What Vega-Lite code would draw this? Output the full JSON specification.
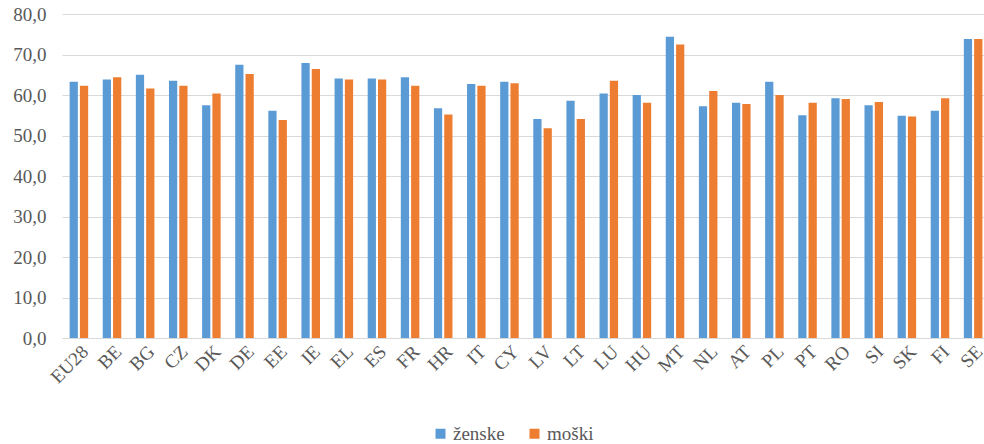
{
  "$schema": "https://vega.github.io/schema/vega-lite/v6.json",
  "width": 922,
  "height": 324,
  "autosize": {"type": "none"},
  "padding": {"left": 62, "top": 14, "right": 0, "bottom": 106},
  "background": "white",
  "config": {
    "font": "Times New Roman, Liberation Serif, DejaVu Serif, serif",
    "axis": {"labelFont": "Times New Roman, Liberation Serif, DejaVu Serif, serif"},
    "legend": {"labelFont": "Times New Roman, Liberation Serif, DejaVu Serif, serif"},
    "view": {"stroke": null}
  },
  "data": {
    "values": [
      {"drzava": "EU28", "spol": "ženske", "vrednost": 63.3}, {"drzava": "EU28", "spol": "moški", "vrednost": 62.3},
      {"drzava": "BE", "spol": "ženske", "vrednost": 63.8}, {"drzava": "BE", "spol": "moški", "vrednost": 64.4},
      {"drzava": "BG", "spol": "ženske", "vrednost": 65.0}, {"drzava": "BG", "spol": "moški", "vrednost": 61.6},
      {"drzava": "CZ", "spol": "ženske", "vrednost": 63.5}, {"drzava": "CZ", "spol": "moški", "vrednost": 62.3},
      {"drzava": "DK", "spol": "ženske", "vrednost": 57.5}, {"drzava": "DK", "spol": "moški", "vrednost": 60.4},
      {"drzava": "DE", "spol": "ženske", "vrednost": 67.5}, {"drzava": "DE", "spol": "moški", "vrednost": 65.2},
      {"drzava": "EE", "spol": "ženske", "vrednost": 56.1}, {"drzava": "EE", "spol": "moški", "vrednost": 53.8},
      {"drzava": "IE", "spol": "ženske", "vrednost": 67.9}, {"drzava": "IE", "spol": "moški", "vrednost": 66.4},
      {"drzava": "EL", "spol": "ženske", "vrednost": 64.1}, {"drzava": "EL", "spol": "moški", "vrednost": 63.8},
      {"drzava": "ES", "spol": "ženske", "vrednost": 64.1}, {"drzava": "ES", "spol": "moški", "vrednost": 63.8},
      {"drzava": "FR", "spol": "ženske", "vrednost": 64.4}, {"drzava": "FR", "spol": "moški", "vrednost": 62.3},
      {"drzava": "HR", "spol": "ženske", "vrednost": 56.7}, {"drzava": "HR", "spol": "moški", "vrednost": 55.2},
      {"drzava": "IT", "spol": "ženske", "vrednost": 62.7}, {"drzava": "IT", "spol": "moški", "vrednost": 62.3},
      {"drzava": "CY", "spol": "ženske", "vrednost": 63.3}, {"drzava": "CY", "spol": "moški", "vrednost": 62.9},
      {"drzava": "LV", "spol": "ženske", "vrednost": 54.1}, {"drzava": "LV", "spol": "moški", "vrednost": 51.8},
      {"drzava": "LT", "spol": "ženske", "vrednost": 58.6}, {"drzava": "LT", "spol": "moški", "vrednost": 54.1},
      {"drzava": "LU", "spol": "ženske", "vrednost": 60.4}, {"drzava": "LU", "spol": "moški", "vrednost": 63.5},
      {"drzava": "HU", "spol": "ženske", "vrednost": 60.0}, {"drzava": "HU", "spol": "moški", "vrednost": 58.1},
      {"drzava": "MT", "spol": "ženske", "vrednost": 74.4}, {"drzava": "MT", "spol": "moški", "vrednost": 72.5},
      {"drzava": "NL", "spol": "ženske", "vrednost": 57.2}, {"drzava": "NL", "spol": "moški", "vrednost": 61.0},
      {"drzava": "AT", "spol": "ženske", "vrednost": 58.1}, {"drzava": "AT", "spol": "moški", "vrednost": 57.8},
      {"drzava": "PL", "spol": "ženske", "vrednost": 63.3}, {"drzava": "PL", "spol": "moški", "vrednost": 60.0},
      {"drzava": "PT", "spol": "ženske", "vrednost": 55.0}, {"drzava": "PT", "spol": "moški", "vrednost": 58.1},
      {"drzava": "RO", "spol": "ženske", "vrednost": 59.2}, {"drzava": "RO", "spol": "moški", "vrednost": 59.0},
      {"drzava": "SI", "spol": "ženske", "vrednost": 57.5}, {"drzava": "SI", "spol": "moški", "vrednost": 58.3},
      {"drzava": "SK", "spol": "ženske", "vrednost": 54.9}, {"drzava": "SK", "spol": "moški", "vrednost": 54.7},
      {"drzava": "FI", "spol": "ženske", "vrednost": 56.1}, {"drzava": "FI", "spol": "moški", "vrednost": 59.2},
      {"drzava": "SE", "spol": "ženske", "vrednost": 73.8}, {"drzava": "SE", "spol": "moški", "vrednost": 73.8}
    ]
  },
  "mark": {"type": "bar"},
  "encoding": {
    "x": {
      "field": "drzava",
      "type": "nominal",
      "sort": null,
      "scale": {"range": [0, 928], "paddingInner": 0.44, "paddingOuter": 0.23},
      "axis": {
        "title": null,
        "labelAngle": -45,
        "labelAlign": "right",
        "labelBaseline": "top",
        "labelFontSize": 19,
        "labelColor": "#595959",
        "labelPadding": 4,
        "ticks": false,
        "domainColor": "#d9d9d9",
        "domainWidth": 1
      }
    },
    "xOffset": {
      "field": "spol",
      "type": "nominal",
      "sort": ["ženske", "moški"],
      "scale": {"paddingInner": 0.2, "paddingOuter": 0}
    },
    "y": {
      "field": "vrednost",
      "type": "quantitative",
      "scale": {"domain": [0, 80], "nice": false},
      "axis": {
        "title": null,
        "values": [0, 10, 20, 30, 40, 50, 60, 70, 80],
        "labelExpr": "replace(format(datum.value, '.1f'), '.', ',')",
        "labelFontSize": 19,
        "labelColor": "#595959",
        "labelPadding": 16,
        "ticks": false,
        "domain": false,
        "gridColor": "#d9d9d9",
        "gridWidth": 1
      }
    },
    "color": {
      "field": "spol",
      "type": "nominal",
      "scale": {"domain": ["ženske", "moški"], "range": ["#5b9bd5", "#ed7d31"]},
      "legend": {
        "title": null,
        "orient": "none",
        "direction": "horizontal",
        "legendX": 369,
        "legendY": 410,
        "symbolType": "square",
        "symbolSize": 100,
        "symbolStrokeWidth": 0,
        "labelFontSize": 19,
        "labelColor": "#595959",
        "labelOffset": 3,
        "columnPadding": 20,
        "padding": 0
      }
    }
  }
}
